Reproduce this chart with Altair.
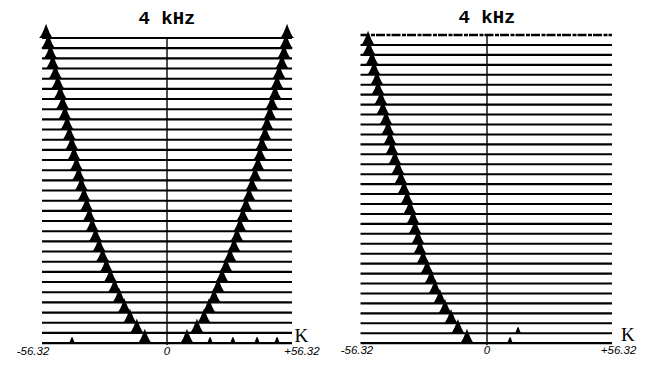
import altair as alt
import pandas as pd

# ---------------- data ----------------
panel_title = "4 kHz"
tick_values = [-56.32, 0.0, 56.32]
tick_labels = ["-56.32", "0", "+56.32"]
k_edge = 56.32

# left panel: 31 traces, two peaks each (negative / positive K)
left_peak_neg = [-54.5, -53.5, -52.5, -51.5, -50.3, -49.2, -48.1, -47.0, -46.0, -45.0,
                 -44.0, -42.9, -41.9, -40.8, -39.8, -38.6, -37.4, -36.2, -35.0, -33.7,
                 -32.2, -30.6, -29.0, -27.3, -25.5, -23.6, -21.5, -19.2, -16.7, -13.6, -10.0]
left_peak_pos = [54.1, 53.6, 52.7, 51.8, 50.5, 49.6, 48.7, 47.3, 46.4, 45.1,
                 44.2, 42.8, 41.9, 41.0, 39.7, 38.3, 37.0, 35.6, 34.2, 32.9,
                 31.5, 30.2, 28.4, 26.6, 24.8, 23.0, 21.2, 18.9, 16.7, 13.5, 9.0]
# small secondary bumps in the left panel: (row, K)
left_bump_rows = [30, 30, 30, 30, 30, 23]
left_bump_k = [-42.8, 19.4, 29.7, 40.6, 49.6, 27.0]

# right panel: first (top) trace has no peak, then 31 traces with one peak
right_peak = [-53.6, -53.2, -51.8, -50.9, -49.6, -49.1, -47.8, -46.9, -45.5, -44.6,
              -43.7, -42.8, -41.5, -40.1, -38.8, -37.4, -36.0, -34.7, -33.3, -32.4,
              -31.1, -30.2, -28.8, -27.0, -25.2, -23.4, -21.2, -18.9, -16.2, -13.1, -9.0]
right_bump_rows = [31, 30]
right_bump_k = [10.4, 14.0]

# ---------------- tables ----------------
n_left = len(left_peak_neg)
n_right = len(right_peak) + 1

left_lines = pd.DataFrame({"row": list(range(n_left)),
                           "x0": [-k_edge] * n_left, "x1": [k_edge] * n_left})
left_peaks = pd.DataFrame({"row": list(range(n_left)) * 2,
                           "k": left_peak_neg + left_peak_pos})
left_bumps = pd.DataFrame({"row": left_bump_rows, "k": left_bump_k})

right_lines = pd.DataFrame({"row": list(range(1, n_right)),
                            "x0": [-57.0] * (n_right - 1), "x1": [k_edge] * (n_right - 1)})
right_top = pd.DataFrame({"row": [0], "x0": [-57.0], "x1": [k_edge]})
right_peaks = pd.DataFrame({"row": list(range(1, n_right)), "k": right_peak})
right_bumps = pd.DataFrame({"row": right_bump_rows, "k": right_bump_k})

PEAK = "M-0.5,0 C-0.32,-0.12 -0.15,-0.6 0,-1 C0.15,-0.6 0.32,-0.12 0.5,0 Z"
BUMP = "M-0.6,0 C-0.3,0 -0.2,-1 0,-1 C0.2,-1 0.3,0 0.6,0 Z"


def build_panel(lines, peaks, bumps, xdom, ydom, width, center_rows, title_row,
                label_row, label_x, k_pos, top=None):
    xs = alt.Scale(domain=xdom, nice=False, zero=False)
    ys = alt.Scale(domain=ydom, nice=False, zero=False, reverse=True)
    X = lambda f: alt.X(f, type="quantitative", scale=xs, axis=None)
    Y = lambda f: alt.Y(f, type="quantitative", scale=ys, axis=None)

    base_lines = alt.Chart(lines).mark_rule(color="black", strokeWidth=2.1).encode(
        x=X("x0"), x2="x1", y=Y("row"))
    center = alt.Chart(pd.DataFrame({"k": [0.0], "r0": [center_rows[0]], "r1": [center_rows[1]]})
                       ).mark_rule(color="black", strokeWidth=1.4).encode(
        x=X("k"), y=Y("r0"), y2="r1")
    pk = alt.Chart(peaks).mark_point(shape=PEAK, filled=True, color="black", opacity=1,
                                     size=820).encode(x=X("k"), y=Y("row"))
    bm = alt.Chart(bumps).mark_point(shape=BUMP, filled=True, color="black", opacity=1,
                                     size=150).encode(x=X("k"), y=Y("row"))
    title = alt.Chart(pd.DataFrame({"t": [panel_title], "k": [0.0], "row": [title_row]})
                      ).mark_text(font="Liberation Mono", fontWeight="bold", fontSize=19,
                                  color="black").encode(x=X("k"), y=Y("row"), text="t:N")
    labels = alt.Chart(pd.DataFrame({"t": tick_labels, "k": label_x,
                                     "row": [label_row] * 3})
                       ).mark_text(font="Liberation Sans", fontStyle="italic", fontSize=11.5,
                                   color="black").encode(x=X("k"), y=Y("row"), text="t:N")
    kl = alt.Chart(pd.DataFrame({"t": ["K"], "k": [k_pos[0]], "row": [k_pos[1]]})
                   ).mark_text(font="Liberation Serif", fontSize=19, color="black").encode(
        x=X("k"), y=Y("row"), text="t:N")
    layers = [base_lines, center, pk, bm, title, labels, kl]
    if top is not None:
        layers.append(alt.Chart(top).mark_rule(color="black", strokeWidth=2.4,
                                               strokeDash=[9, 1.5, 4, 1]).encode(
            x=X("x0"), x2="x1", y=Y("row")))
    return alt.layer(*layers).properties(width=width, height=360)


left = build_panel(left_lines, left_peaks, left_bumps,
                   xdom=[-71.65, 71.65], ydom=[-2.95, 32.45], width=318,
                   center_rows=[0, 30.2], title_row=-2.0, label_row=30.85,
                   label_x=[-60.4, 0.0, 60.8], k_pos=[60.6, 29.3])
right = build_panel(right_lines, right_peaks, right_bumps,
                    xdom=[-71.65, 67.6], ydom=[-2.72, 33.5], width=309,
                    center_rows=[0, 31.2], title_row=-1.8, label_row=31.8,
                    label_x=[-58.6, 0.0, 59.3], k_pos=[63.5, 30.2], top=right_top)

chart = alt.hconcat(left, right, spacing=2).resolve_scale(
    x="independent", y="independent").configure_view(stroke=None).properties(padding=0)

chart.save("out.html", embed_options={"renderer": "svg", "actions": False})
